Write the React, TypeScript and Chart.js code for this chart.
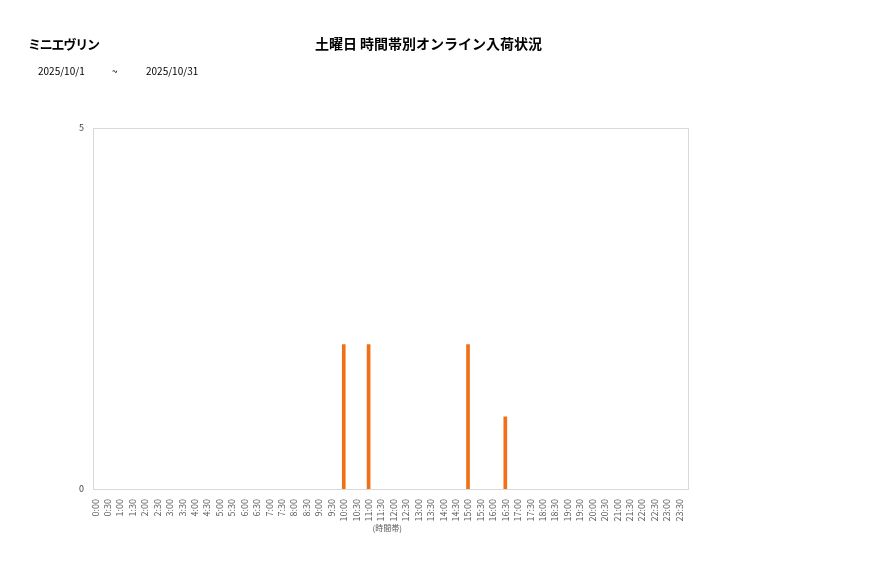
import React, { useEffect, useRef } from 'react';
import { Chart, registerables } from 'chart.js';

Chart.register(...registerables);

const storeName = 'ミニエヴリン';
const chartTitle = '土曜日 時間帯別オンライン入荷状況';
const dateFrom = '2025/10/1';
const dateTo = '2025/10/31';
const xAxisTitle = '(時間帯)';

const timeSlots = [
  '0:00', '0:30', '1:00', '1:30', '2:00', '2:30', '3:00', '3:30',
  '4:00', '4:30', '5:00', '5:30', '6:00', '6:30', '7:00', '7:30',
  '8:00', '8:30', '9:00', '9:30', '10:00', '10:30', '11:00', '11:30',
  '12:00', '12:30', '13:00', '13:30', '14:00', '14:30', '15:00', '15:30',
  '16:00', '16:30', '17:00', '17:30', '18:00', '18:30', '19:00', '19:30',
  '20:00', '20:30', '21:00', '21:30', '22:00', '22:30', '23:00', '23:30',
];

const arrivals = [
  0, 0, 0, 0, 0, 0, 0, 0,
  0, 0, 0, 0, 0, 0, 0, 0,
  0, 0, 0, 0, 2, 0, 2, 0,
  0, 0, 0, 0, 0, 0, 2, 0,
  0, 1, 0, 0, 0, 0, 0, 0,
  0, 0, 0, 0, 0, 0, 0, 0,
];

const yTicks = [0, 5];

const JP_FONT = '"Noto Sans CJK JP", "Noto Sans", sans-serif';

// draws the light frame round the plot area
const frame = {
  id: 'frame',
  afterDraw(chart) {
    const { ctx, chartArea } = chart;
    ctx.save();
    ctx.strokeStyle = '#d9d9d9';
    ctx.lineWidth = 1;
    ctx.strokeRect(
      Math.round(chartArea.left) + 0.5,
      Math.round(chartArea.top) + 0.5,
      Math.round(chartArea.right - chartArea.left),
      Math.round(chartArea.bottom - chartArea.top),
    );
    ctx.restore();
  },
};

// the original's categories sit a few px left of the frame
const inset = {
  id: 'inset',
  afterLayout(chart) {
    const x = chart.scales.x;
    x.left = chart.chartArea.left - 4;
    x.right = chart.chartArea.right - 2.5;
    x.configure();
  },
};

function ArrivalChart() {
  const canvasRef = useRef<HTMLCanvasElement | null>(null);

  useEffect(() => {
    const ctx = canvasRef.current?.getContext('2d');
    if (!ctx) return;
    const chart = new Chart(ctx, {
      type: 'bar',
      data: {
        labels: timeSlots,
        datasets: [
          {
            // empty slots are left out so no stub is drawn on the axis
            data: arrivals.map((v) => (v === 0 ? null : v)),
            backgroundColor: '#f07018',
            barThickness: 3,
          },
        ],
      },
      options: {
        animation: false,
        responsive: false,
        maintainAspectRatio: false,
        layout: { padding: { left: 73, top: 128, right: 189, bottom: 45 } },
        plugins: {
          legend: { display: false },
          tooltip: { enabled: false },
        },
        scales: {
          x: {
            offset: true,
            grid: { display: false },
            border: { display: false },
            ticks: {
              autoSkip: false,
              minRotation: 90,
              maxRotation: 90,
              padding: 2,
              color: '#595959',
              font: { family: JP_FONT, size: 9 },
            },
            title: {
              display: true,
              text: xAxisTitle,
              color: '#595959',
              padding: { top: 2, bottom: 0 },
              font: { family: JP_FONT, size: 8 },
            },
            afterFit: (scale) => {
              scale.height = 44;
            },
          },
          y: {
            min: 0,
            max: 5,
            grid: { display: false },
            border: { display: false },
            afterBuildTicks: (scale) => {
              scale.ticks = yTicks.map((v) => ({ value: v }));
            },
            ticks: {
              padding: 1,
              color: '#404040',
              font: { family: JP_FONT, size: 9 },
            },
            afterFit: (scale) => {
              scale.width = 20;
            },
          },
        },
      },
      plugins: [inset, frame],
    });
    return () => {
      chart.destroy();
    };
  }, []);

  return <canvas ref={canvasRef} width={877} height={578} style={{ position: 'absolute', left: 0, top: 0 }} />;
}

export default function App() {
  return (
    <div
      style={{
        position: 'absolute',
        left: 0,
        top: 0,
        width: 877,
        height: 578,
        background: '#fff',
        fontFamily: JP_FONT,
        color: '#000',
      }}
    >
      <ArrivalChart />
      <div
        style={{ position: 'absolute', left: 28, top: 34, fontSize: 13, fontWeight: 'bold', letterSpacing: -1.2 }}
      >
        {storeName}
      </div>
      <div
        style={{
          position: 'absolute',
          left: 0,
          width: 857,
          top: 33,
          textAlign: 'center',
          fontSize: 14,
          fontWeight: 'bold',
        }}
      >
        {chartTitle}
      </div>
      <div style={{ position: 'absolute', left: 38, top: 63, fontSize: 10 }}>{dateFrom}</div>
      <div style={{ position: 'absolute', left: 112, top: 63, fontSize: 10 }}>~</div>
      <div style={{ position: 'absolute', left: 146, top: 63, fontSize: 10 }}>{dateTo}</div>
    </div>
  );
}
